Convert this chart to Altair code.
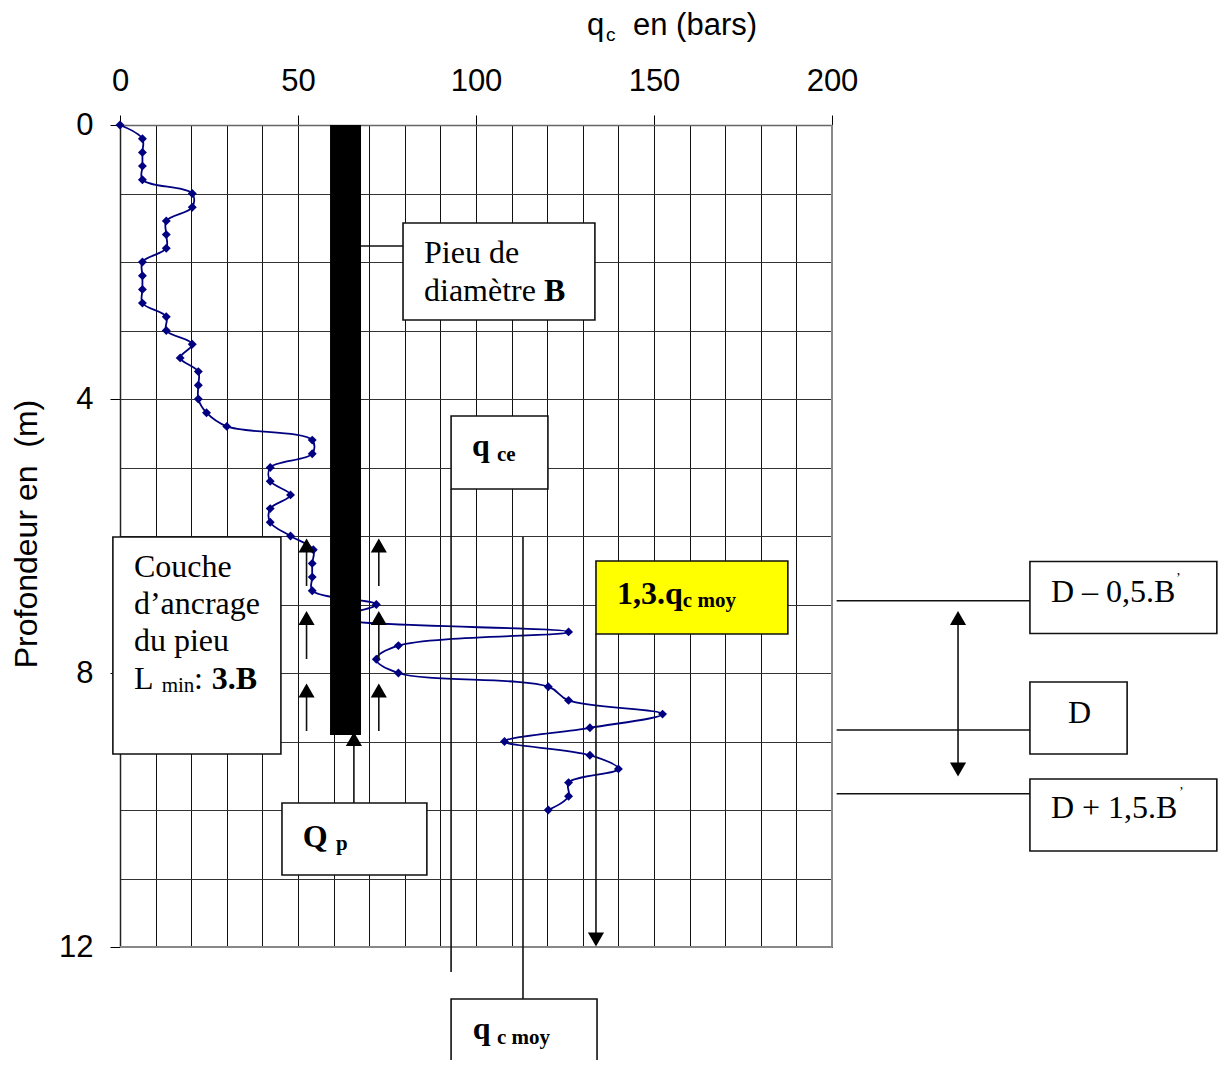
import altair as alt
import pandas as pd

# ---- penetrometer curve -------------------------------------------------
depth_m = [0.0, 0.2, 0.4, 0.6, 0.8, 1.0, 1.2, 1.4, 1.6, 1.8, 2.0, 2.2, 2.4, 2.6, 2.8, 3.0, 3.2,
           3.4, 3.6, 3.8, 4.0, 4.2, 4.4, 4.6, 4.8, 5.0, 5.2, 5.4, 5.6, 5.8, 6.0, 6.2, 6.4, 6.6,
           6.8, 7.0, 7.2, 7.4, 7.6, 7.8, 8.0, 8.2, 8.4, 8.6, 8.8, 9.0, 9.2, 9.4, 9.6, 9.8, 10.0]
qc_bars = [0, 6.3, 6.3, 6.3, 6.3, 20.3, 20.3, 13, 13, 13, 6.3, 6.3, 6.3, 6.3, 13, 13, 20.3,
           16.9, 22, 22, 22, 24.3, 30, 54, 54, 42.2, 42.2, 47.9, 42.2, 42.2, 47.9, 54.3, 54, 54,
           54, 72, 61, 126, 78.2, 72, 78.2, 120.3, 126, 152.4, 132, 108, 132, 140, 126, 126, 120.3]

# ---- axes ---------------------------------------------------------------
x_grid_values = list(range(0, 201, 10))
y_grid_values = list(range(0, 13))

# ---- annotation geometry, in chart units (bars, metres) -----------------
# pile
pile = [[59.0, 67.7, 0.0, 8.905]]
# boxes: x1, x2, y1, y2, fill
boxes = [
    [79.5, 133.4, 1.431, 2.847, "white"],
    [93.0, 120.2, 4.248, 5.314, "white"],
    [133.7, 187.6, 6.365, 7.431, "#ffff00"],
    [-2.0, 45.2, 6.015, 9.182, "white"],
    [45.5, 86.2, 9.898, 10.949, "white"],
    [93.0, 134.0, 12.759, 13.869, "white"],
    [255.6, 308.1, 6.372, 7.423, "white"],
    [255.6, 282.9, 8.131, 9.182, "white"],
    [255.6, 308.1, 9.547, 10.599, "white"],
]
# leader lines: x1, x2, y1, y2
leaders = [
    [67.7, 79.5, 1.766, 1.766],
    [93.0, 93.0, 5.314, 12.365],
    [113.2, 113.2, 6.015, 12.759],
    [133.7, 133.7, 7.431, 11.9],
    [65.7, 65.7, 9.05, 9.898],
    [52.4, 52.4, 6.234, 6.73],
    [52.4, 52.4, 7.3, 7.796],
    [52.4, 52.4, 8.35, 8.847],
    [72.7, 72.7, 6.234, 6.73],
    [72.7, 72.7, 7.3, 7.796],
    [72.7, 72.7, 8.35, 8.847],
    [235.4, 235.4, 7.18, 9.42],
    [201.3, 255.6, 6.945, 6.945],
    [201.3, 255.6, 8.832, 8.832],
    [201.3, 255.6, 9.762, 9.762],
]
# arrow heads: x, y
heads_up = [[52.4, 6.139], [52.4, 7.197], [52.4, 8.255], [72.7, 6.139], [72.7, 7.197],
            [72.7, 8.255], [65.7, 8.964], [235.4, 7.197]]
heads_down = [[133.7, 11.89], [235.4, 9.409]]

# texts: text, x, y (baseline), font size
sans_texts = [
    ["q", 131.2, -1.314, 31],
    ["c", 136.5, -1.226, 19],
    ["en (bars)", 144.1, -1.314, 31],
]
serif_texts = [
    ["Pieu de", 85.4, 2.019, 32],
    ["diamètre", 85.4, 2.569, 32],
    ["Couche", 3.9, 6.594, 32],
    ["d’ancrage", 3.9, 7.139, 32],
    ["du pieu", 3.9, 7.679, 32],
    ["L", 3.9, 8.234, 32],
    ["min", 11.7, 8.277, 21],
    [":", 20.8, 8.234, 32],
    ["D – 0,5.B", 261.5, 6.959, 32],
    ["’", 296.6, 6.686, 14],
    ["D", 266.3, 8.73, 32],
    ["D + 1,5.B", 261.5, 10.117, 32],
    ["’", 297.5, 9.81, 14],
]
bold_texts = [
    ["B", 119.1, 2.569, 32],
    ["q", 98.9, 4.832, 32],
    ["ce", 105.9, 4.905, 21],
    ["1,3.q", 139.6, 6.993, 32],
    ["c moy", 158.1, 7.032, 21],
    ["3.B", 25.8, 8.234, 32],
    ["Q", 51.3, 10.536, 32],
    ["p", 60.7, 10.584, 21],
    ["q", 99.1, 13.343, 32],
    ["c moy", 105.9, 13.416, 21],
]

# ---- tables -------------------------------------------------------------
curve = pd.DataFrame({"depth": depth_m, "qc": qc_bars})
pile_df = pd.DataFrame(pile, columns=["x1", "x2", "y1", "y2"])
box_df = pd.DataFrame(boxes, columns=["x1", "x2", "y1", "y2", "fill"])
lead_df = pd.DataFrame(leaders, columns=["x1", "x2", "y1", "y2"])
up_df = pd.DataFrame(heads_up, columns=["x", "y"])
down_df = pd.DataFrame(heads_down, columns=["x", "y"])

xs = alt.Scale(domain=[0, 200], nice=False, zero=False)
ys = alt.Scale(domain=[0, 12], reverse=True, nice=False, zero=False)

x_axis = alt.Axis(
    orient="top", values=x_grid_values, title=None,
    labelExpr="datum.value % 50 === 0 ? datum.label : ''",
    labelFont="Liberation Sans", labelFontSize=31, labelColor="black", labelPadding=18,
    labelOverlap=False, labelFlush=False, labelBound=False,
    tickSize=10, tickWidth=1,
    tickColor={"condition": {"test": "datum.value % 50 === 0", "value": "black"}, "value": "transparent"},
    grid=True, gridColor="#111111", gridWidth=1, gridOpacity=1,
    domainColor="#666666", domainWidth=1.5,
)
y_axis = alt.Axis(
    orient="left", values=y_grid_values,
    title="Profondeur en\u00a0\u00a0(m)", titleFont="Liberation Sans", titleFontSize=32, titleFontWeight="normal",
    titleColor="black", titleAngle=270, titleBaseline="alphabetic", titleAlign="center",
    titleX=-84, titleY=408.5,
    labelExpr="datum.value % 4 === 0 ? datum.label : ''",
    labelFont="Liberation Sans", labelFontSize=31, labelColor="black", labelPadding=17,
    labelOverlap=False, labelFlush=False, labelBound=False,
    tickSize=10, tickWidth=1,
    tickColor={"condition": {"test": "datum.value % 4 === 0", "value": "black"}, "value": "transparent"},
    grid=True, gridColor="#333333", gridWidth=1, gridOpacity=1,
    domainColor="#222222", domainWidth=1.5,
)


def X(f):
    return alt.X(f, type="quantitative", scale=xs, axis=x_axis)


def Y(f):
    return alt.Y(f, type="quantitative", scale=ys, axis=y_axis)


line = alt.Chart(curve).mark_line(interpolate="catmull-rom", color="#000080", strokeWidth=1.8).encode(
    x=X("qc"), y=Y("depth"), order=alt.Order("depth:Q"),
)
points = alt.Chart(curve).mark_point(shape="diamond", filled=True, size=80, color="#000080", opacity=1).encode(
    x=X("qc"), y=Y("depth"),
)
# right and bottom plot border
border = alt.Chart(pd.DataFrame({"x1": [200, 0], "x2": [200, 200], "y1": [0, 12], "y2": [12, 12]})).mark_rule(
    color="#888888", strokeWidth=2).encode(
    x=X("x1"), x2=alt.X2("x2"), y=Y("y1"), y2=alt.Y2("y2"))

pile_mark = alt.Chart(pile_df).mark_rect(color="black").encode(
    x=X("x1"), x2=alt.X2("x2"), y=Y("y1"), y2=alt.Y2("y2"))
box_mark = alt.Chart(box_df).mark_rect(stroke="#111111", strokeWidth=1.6).encode(
    x=X("x1"), x2=alt.X2("x2"), y=Y("y1"), y2=alt.Y2("y2"),
    fill=alt.Fill("fill:N", scale=None),
)
lead_mark = alt.Chart(lead_df).mark_rule(color="#111111", strokeWidth=1.6).encode(
    x=X("x1"), x2=alt.X2("x2"), y=Y("y1"), y2=alt.Y2("y2"))
up_mark = alt.Chart(up_df).mark_point(shape="triangle-up", filled=True, size=260, color="black", opacity=1).encode(
    x=X("x"), y=Y("y"))
down_mark = alt.Chart(down_df).mark_point(shape="triangle-down", filled=True, size=260, color="black", opacity=1).encode(
    x=X("x"), y=Y("y"))


def text_layer(rows, font, weight):
    df = pd.DataFrame(rows, columns=["t", "x", "y", "s"])
    return alt.Chart(df).mark_text(font=font, fontWeight=weight, align="left", baseline="alphabetic", color="black").encode(
        x=X("x"), y=Y("y"), text="t:N", size=alt.Size("s:Q", scale=None, legend=None))


chart = alt.layer(
    border, line, points, pile_mark, box_mark, lead_mark, up_mark, down_mark,
    text_layer(sans_texts, "Liberation Sans", "normal"),
    text_layer(serif_texts, "Liberation Serif", "normal"),
    text_layer(bold_texts, "Liberation Serif", "bold"),
).properties(
    width=712, height=822,
    autosize=alt.AutoSizeParams(type="none"),
    padding={"left": 112, "top": 117, "right": 386, "bottom": 113},
    background="white",
).configure_view(stroke=None)

chart.save("out.html", embed_options={"renderer": "svg", "actions": False})
